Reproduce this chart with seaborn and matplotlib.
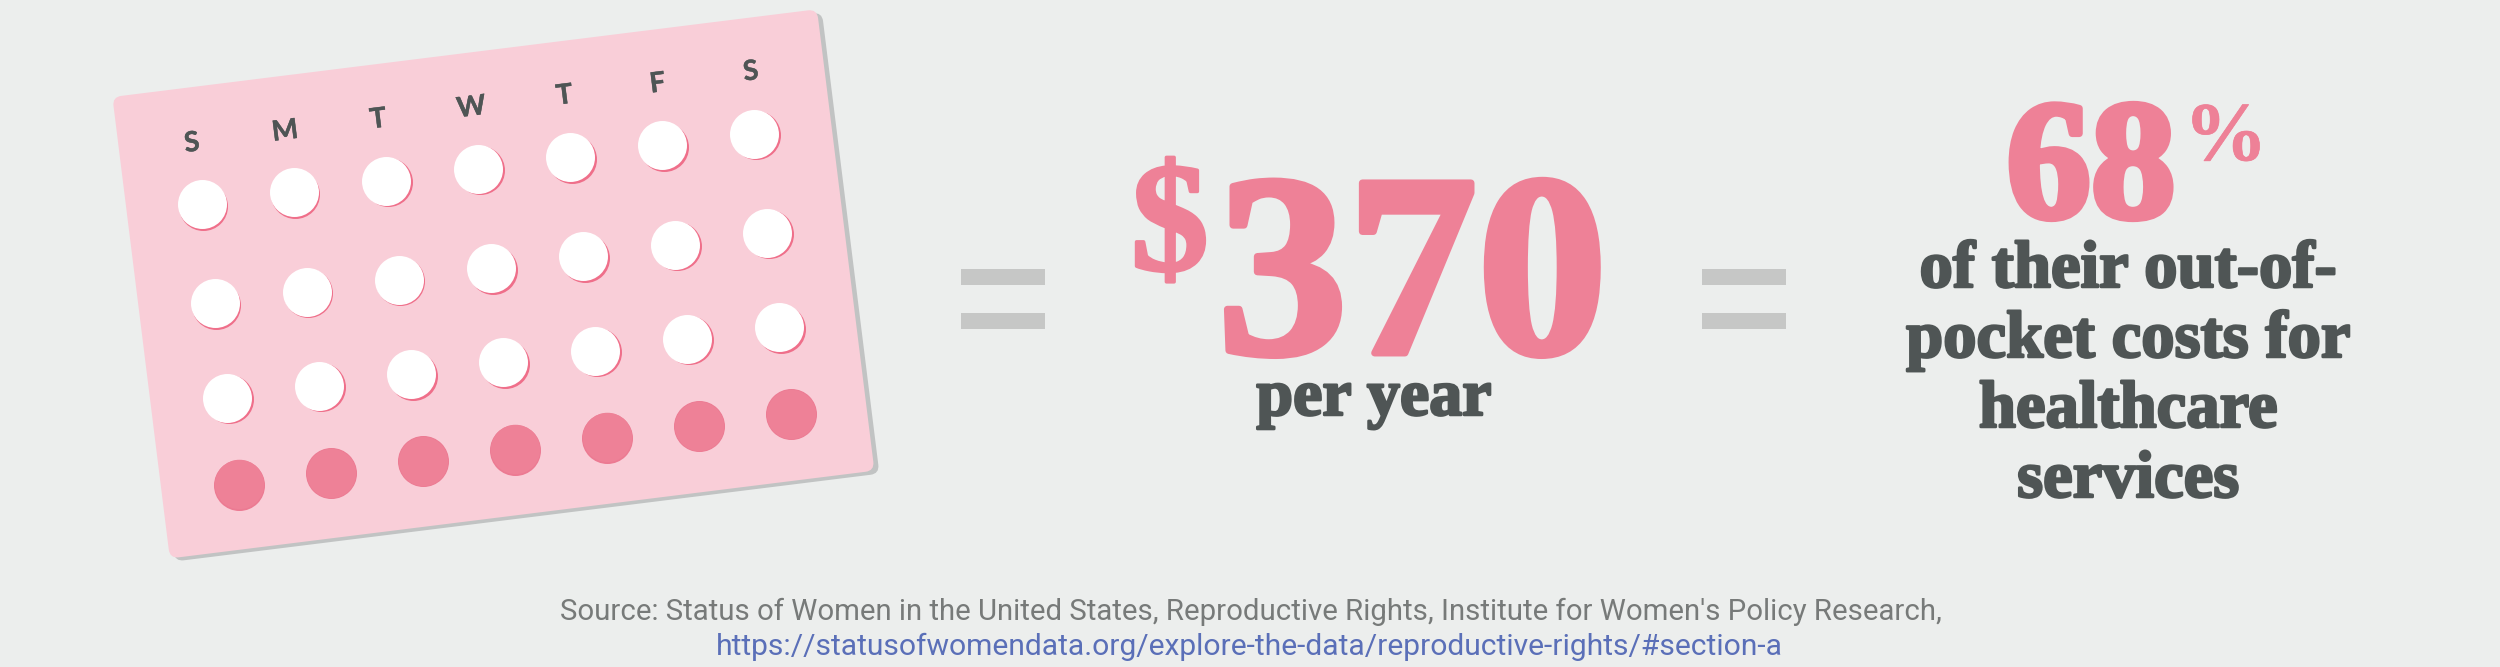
import matplotlib
matplotlib.use("Agg")
import matplotlib.pyplot as plt
import matplotlib.patheffects as pe
from matplotlib.patches import FancyBboxPatch, Rectangle
from matplotlib.transforms import Affine2D
import numpy as np
import pandas as pd
import seaborn as sns

# ---- content ----
DAY_LABELS = ["S", "M", "T", "W", "T", "F", "S"]
DAY_INDEX = [0, 1, 2, 3, 4, 5, 6]
WEEK_OFFSETS = [0, 100, 195, 282.5]
WEEK_KIND = ["active", "active", "active", "placebo"]
ANNUAL_COST = "370"
SHARE = "68"
LINES = ["of their out-of-", "pocket costs for", "healthcare", "services"]
SOURCE = "Source: Status of Women in the United States, Reproductive Rights, Institute for Women's Policy Research,"
LINK = "https://statusofwomendata.org/explore-the-data/reproductive-rights/#section-a"

BG, CARD, CARD_SH = "#eceeed", "#f9ced8", "#c1c3c3"
PINK, PINK_SH, DARK = "#ee8197", "#ef6f8a", "#4f5555"
EQ, GREY, BLUE = "#c6c7c6", "#777a79", "#5a6fb8"

sns.set_theme(style="white")
fig = plt.figure(figsize=(25, 6.67), dpi=100, facecolor=BG)
ax = fig.add_axes([0, 0, 1, 1], facecolor=BG)

# ---- card (pixel-sized frame rotated on the page) ----
theta = 7.1
card_tf = lambda dx, dy: Affine2D().rotate_deg(-theta).translate(112.4 + dx, 97 + dy) + ax.transData
for (dx, dy), col in (((5, 3), CARD_SH), ((0, 0), CARD)):
    ax.add_patch(FancyBboxPatch((0, 0), 710, 465, boxstyle="round,pad=0,rounding_size=9",
                                fc=col, ec="none", transform=card_tf(dx, dy), zorder=1))

# ---- pills ----
pills = pd.DataFrame([(d, w, k) for w, k in zip(WEEK_OFFSETS, WEEK_KIND) for d in DAY_INDEX],
                     columns=["day", "week", "kind"])
grid = np.array([[92.05, 0.1296, 201.9], [-11.75, 0.9915, 204.2], [0, 0, 1]])


def pill_tf(dx, dy):
    return Affine2D(grid).translate(dx, dy) + ax.transData


active = pills[pills.kind == "active"]
placebo = pills[pills.kind == "placebo"]
S_A = (49 * 0.72) ** 2
S_P = (51 * 0.72) ** 2
sns.scatterplot(data=active, x="day", y="week", s=S_A, color=PINK_SH, linewidth=0,
                transform=pill_tf(1.5, 1.5), ax=ax, zorder=2, legend=False)
sns.scatterplot(data=active, x="day", y="week", s=S_A, color="white", linewidth=0,
                transform=pill_tf(0, 0), ax=ax, zorder=3, legend=False)
sns.scatterplot(data=placebo, x="day", y="week", s=S_P, color="#ec7a92", linewidth=0,
                transform=pill_tf(0.5, 0.5), ax=ax, zorder=2, legend=False)
sns.scatterplot(data=placebo, x="day", y="week", s=(49.5 * 0.72) ** 2, color=PINK, linewidth=0,
                transform=pill_tf(0, 0), ax=ax, zorder=3, legend=False)

# ---- weekday labels, in the same frame as the pills ----
label_tf = Affine2D().scale(1.012, 1) + Affine2D(grid).translate(-10, -61) + ax.transData
for d, lab in zip(DAY_INDEX, DAY_LABELS):
    ax.text(d, 0, lab, transform=label_tf, rotation=theta, rotation_mode="anchor",
            ha="center", va="center", family="Lato", weight="bold", fontsize=20, color=DARK, zorder=4,
            path_effects=[pe.withStroke(linewidth=0.3, foreground=DARK)])

# ---- equals signs ----
for x0 in (961, 1702):
    for y0 in (269, 313):
        ax.add_patch(Rectangle((x0, y0), 84, 16, fc=EQ, ec="none", zorder=2))

# ---- headline numbers ----
serif = dict(family="Liberation Serif", weight="bold", va="baseline", zorder=5)


def put(x, y, s, size, color, ha="center", stroke=2.0):
    ax.text(x, y, s, fontsize=size, color=color, ha=ha,
            path_effects=[pe.withStroke(linewidth=stroke, foreground=color)], **serif)


put(1131, 270, "$", 112, PINK, ha="left", stroke=2.5)
put(1412.5, 353, ANNUAL_COST, 187, PINK, stroke=5)
put(1374, 415, "per year", 47.5, DARK, stroke=1.8)
put(2091, 217, SHARE, 122, PINK, stroke=5)
put(2184, 160, "%", 60, PINK, ha="left", stroke=0.5)
for yb, line in zip((287, 357, 427, 497), LINES):
    put(2128, yb, line, 48, DARK, stroke=1.8)

# ---- source ----
ax.text(1251, 620, SOURCE, family="Roboto", fontsize=21.2, color=GREY, ha="center", va="baseline")
ax.text(1249.5, 655, LINK, family="Roboto", fontsize=21.6, color=BLUE, ha="center", va="baseline")

ax.set_xlim(0, 2500)
ax.set_ylim(667, 0)
ax.axis("off")
fig.savefig("out.png", dpi=100, facecolor=BG)
